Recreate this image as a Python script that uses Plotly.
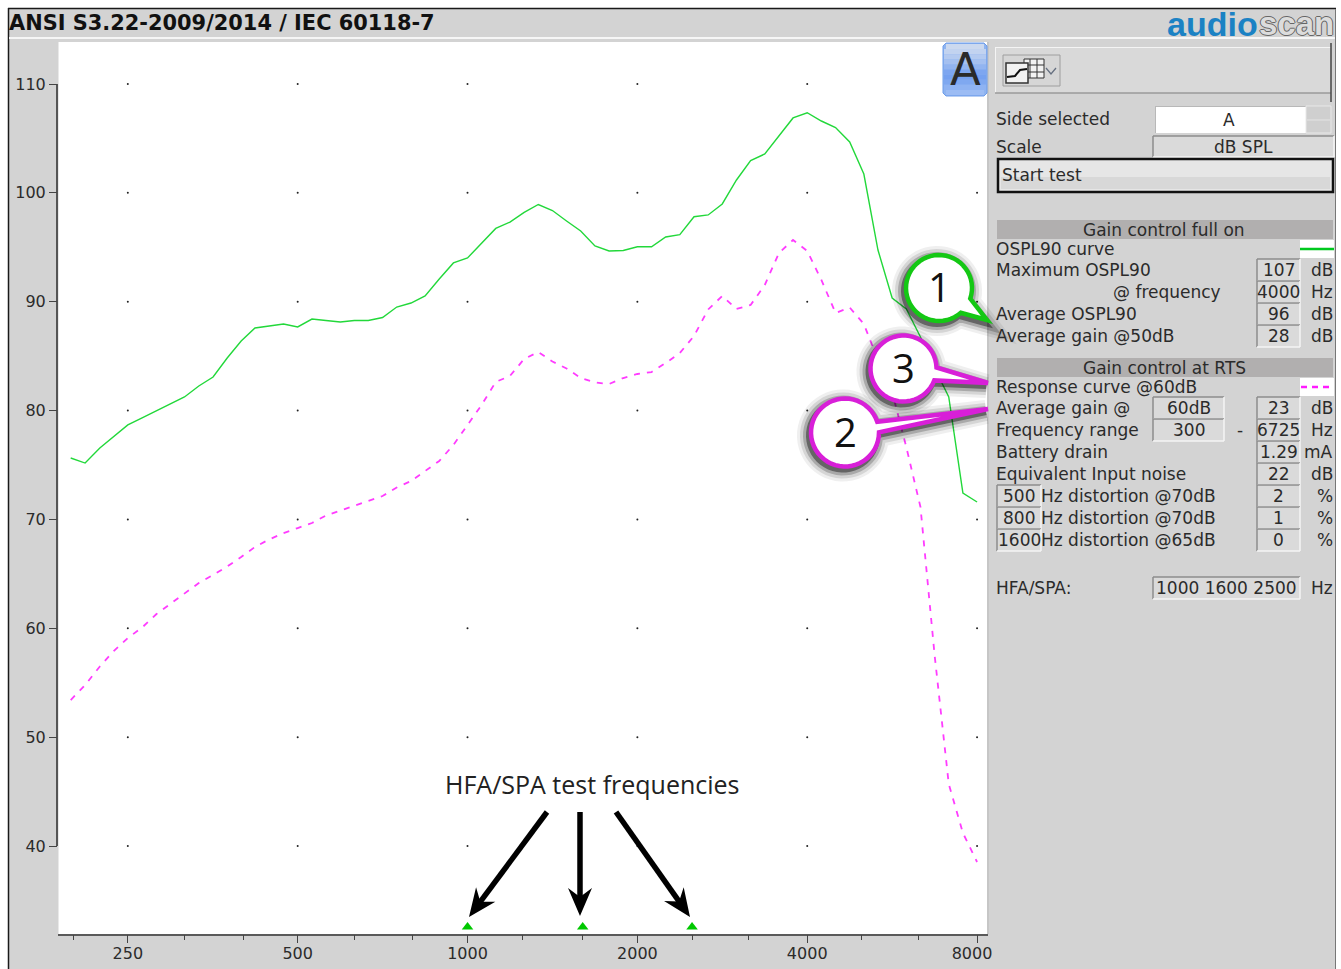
import math
import plotly.graph_objects as go

W, H = 1341, 969

# ---------- data ----------
freq_hz = [198, 210, 223, 236, 250, 265, 281, 297, 315, 334, 354, 375, 397, 420, 445, 472,
           500, 530, 561, 595, 630, 667, 707, 749, 794, 841, 891, 944, 1000, 1059, 1122, 1189,
           1260, 1335, 1414, 1498, 1587, 1682, 1782, 1888, 2000, 2119, 2245, 2378, 2520, 2670,
           2828, 2997, 3175, 3364, 3564, 3775, 4000, 4238, 4490, 4757, 5040, 5339, 5657, 5993,
           6350, 6727, 7127, 7551, 8000]
ospl90_db = [75.64, 75.18, 76.56, 77.62, 78.68, 79.32, 79.96, 80.6, 81.25, 82.26, 83.08, 84.83,
             86.39, 87.59, 87.77, 87.95, 87.68, 88.41, 88.27, 88.14, 88.27, 88.27, 88.55, 89.51,
             89.88, 90.53, 92.09, 93.56, 94.02, 95.39, 96.73, 97.32, 98.2, 98.93, 98.38, 97.42,
             96.5, 95.12, 94.66, 94.71, 95.05, 95.05, 95.95, 96.16, 97.81, 97.97, 98.98, 101.18,
             102.97, 103.57, 105.22, 106.88, 107.36, 106.6, 106.0, 104.67, 101.73, 94.75, 90.34,
             89.33, 86.76, 83.91, 81.25, 72.43, 71.6]
response_db = [53.41, 54.79, 56.49, 57.91, 59.11, 60.07, 61.31, 62.23, 63.2, 64.16, 64.9, 65.68,
               66.55, 67.47, 68.16, 68.75, 69.21, 69.67, 70.36, 70.82, 71.23, 71.65, 72.15, 72.93,
               73.53, 74.45, 75.37, 76.84, 78.68, 80.51, 82.63, 83.18, 84.74, 85.38, 84.51, 83.87,
               82.99, 82.58, 82.44, 82.99, 83.36, 83.54, 84.37, 85.29, 86.85, 89.29, 90.53, 89.33,
               89.7, 91.54, 94.48, 95.67, 94.66, 92.0, 88.96, 89.47, 87.95, 84.65, 81.71, 76.65,
               71.14, 57.55, 45.7, 41.2, 38.53]
hfa_freqs = [1000, 1600, 2500]
hfa_level = [32.55, 32.55, 32.55]
x_major = [250, 500, 1000, 2000, 4000, 8000]
x_major_text = ["250", "500", "1000", "2000", "4000", "8000\u00a0\u00a0"]
x_minor = [200, 315, 400, 630, 800, 1250, 1600, 2500, 3150, 5000, 6300]
y_ticks = [40, 50, 60, 70, 80, 90, 100, 110]

GREEN = "#22d83a"
MAGENTA = "#ff3cff"
PANEL = "#d3d3d3"
TEXT = "#2b2b2b"
FONT = "DejaVu Sans"


def PX(x):
    return x / W


def PY(y):
    return 1 - y / H


shapes = []
annos = []


def rect(x0, y0, x1, y1, fill=None, line=None, lw=1, layer="below", opacity=1):
    shapes.append(dict(type="rect", xref="paper", yref="paper", x0=PX(x0), x1=PX(x1), y0=PY(y0), y1=PY(y1),
                       fillcolor=fill or "rgba(0,0,0,0)", line=dict(color=line or "rgba(0,0,0,0)", width=lw if line else 0),
                       layer=layer, opacity=opacity))


def seg(x0, y0, x1, y1, color, lw=1, layer="below", dash=None):
    shapes.append(dict(type="line", xref="paper", yref="paper", x0=PX(x0), x1=PX(x1), y0=PY(y0), y1=PY(y1),
                       line=dict(color=color, width=lw, dash=dash or "solid"), layer=layer))


def poly(points, fill=None, line=None, lw=0, layer="above", opacity=1):
    d = "M " + " L ".join(f"{PX(x):.5f},{PY(y):.5f}" for x, y in points) + " Z"
    shapes.append(dict(type="path", xref="paper", yref="paper", path=d, fillcolor=fill or "rgba(0,0,0,0)",
                       line=dict(color=line or "rgba(0,0,0,0)", width=lw), layer=layer, opacity=opacity))


def text(x, y, s, size=17, anchor="left", color=TEXT, family=FONT, weight=None, shadow=None):
    f = dict(family=family, size=size, color=color)
    if weight:
        f["weight"] = weight
    if shadow:
        f["shadow"] = shadow
    annos.append(dict(xref="paper", yref="paper", x=PX(x), y=PY(y), text=s, showarrow=False, xanchor=anchor,
                      yanchor="middle", font=f, borderpad=0, borderwidth=0))


def sunken(x0, y0, x1, y1, fill="#dadada"):
    rect(x0, y0, x1, y1, fill=fill)
    seg(x0, y0, x1, y0, "#8c8c8c", 1.5)
    seg(x0, y0, x0, y1, "#8c8c8c", 1.5)
    seg(x0, y1, x1, y1, "#f4f4f4", 1.5)
    seg(x1, y0, x1, y1, "#f4f4f4", 1.5)


def valbox(x0, y0, x1, y1, s):
    sunken(x0, y0, x1, y1)
    text((x0 + x1) / 2, (y0 + y1) / 2, s, anchor="center")


# ---------- window background ----------
rect(8, 8, 1336, H, fill=PANEL)
seg(8, 8.5, 1336, 8.5, "#1a1a1a", 1.5)
seg(8.5, 8, 8.5, H, "#1a1a1a", 1.5)
seg(1335.5, 9, 1335.5, H, "#777777", 1)
seg(9, 38, 1335, 38, "#f6f6f6", 2)
rect(58.5, 42, 988, 934, fill="#ffffff")
seg(988, 42, 988, 934, "#c6c6c6", 2)
seg(58, 935, 988, 935, "#5a5a5a", 2)
shapes.append(dict(type="line", xref="paper", yref="y", x0=PX(57), x1=PX(57), y0=40, y1=110,
                   line=dict(color="#555555", width=2), layer="below"))

text(9, 23.5, "ANSI S3.22-2009/2014 / IEC 60118-7", size=20.9, weight=700, color="#111111")

# logo
text(1167, 24, "audio", size=34, weight=700, color="#1b82c4", family="Liberation Sans")
text(1259, 24, "scan", size=33, weight=700, color="#dcdcdc", family="Liberation Sans",
     shadow="1px 0 0 #666666,-1px 0 0 #666666,0 1px 0 #666666,0 -1px 0 #666666")

# A button
poly([(946, 43), (984, 43), (987, 46), (987, 93), (984, 96), (946, 96), (943, 93), (943, 46)],
     fill="#8fb4f0", line="#6d9cea", lw=1, layer="below")
for i, c in enumerate(["#ccd9ef", "#c2d3f0", "#b4caf0", "#a5c0f0", "#92b4f0", "#7ea6f0", "#76a1f0", "#7fa8f0", "#8fb3f2", "#9cbcf4"]):
    inset = 2 if i in (0, 9) else 0
    rect(944 + inset, 44 + i * 5.1, 986 - inset, 44 + (i + 1) * 5.1, fill=c)
text(965, 70, "A", size=45, anchor="center", color="#2a2a2a")

# tool bar
rect(995, 47, 1331, 93, fill="#d9d9d9")
seg(995, 47.5, 1331, 47.5, "#f4f4f4", 1)
seg(995.5, 47, 995.5, 93, "#f4f4f4", 1)
seg(995, 93, 1331, 93, "#9a9a9a", 1.5)
seg(1331, 43, 1331, 102, "#444444", 1.5)
rect(1003, 55, 1060, 86, fill="#d6d6d6", line="#9e9e9e", lw=1)
rect(1024, 59, 1044, 78, fill="#f2f2f2", line="#333333", lw=1)
for xx in (1030, 1037):
    seg(xx, 59, xx, 78, "#333333", 1)
for yy in (65, 72):
    seg(1024, yy, 1044, yy, "#333333", 1)
rect(1006, 63, 1028, 83, fill="#f2f2f2", line="#333333", lw=1.5)
shapes.append(dict(type="path", xref="paper", yref="paper", layer="below", line=dict(color="#111111", width=2),
                   path="M " + " L ".join(f"{PX(x):.5f},{PY(y):.5f}" for x, y in [(1007, 77), (1015, 76), (1020, 70), (1027, 69)])))
shapes.append(dict(type="path", xref="paper", yref="paper", layer="below", line=dict(color="#667080", width=1.3),
                   path="M " + " L ".join(f"{PX(x):.5f},{PY(y):.5f}" for x, y in [(1046, 68), (1051, 74), (1056, 68)])))

# selector rows
text(996, 119, "Side selected")
rect(1155, 106, 1306, 133, fill="#ffffff")
seg(1155, 106.5, 1306, 106.5, "#b8b8b8", 1)
seg(1155.5, 106, 1155.5, 133, "#b8b8b8", 1)
text(1229, 120, "A", anchor="center")
rect(1306, 106, 1331, 133, fill="#cfcfcf", line="#e8e8e8", lw=1)
seg(1307, 120, 1330, 120, "#e4e4e4", 1)
text(996, 147, "Scale")
sunken(1153, 136, 1334, 157)
text(1243, 147, "dB SPL", anchor="center")
rect(998, 159, 1333, 192, fill="#e6e6e6", line="#111111", lw=2.5)
rect(1001, 177, 1330, 189, fill="#d8d8d8")
text(1002, 175, "Start test")

# gain control full on
rect(997, 220, 1333, 239, fill="#b1afaf")
text(1164, 230, "Gain control full on", anchor="center")
text(996, 249, "OSPL90 curve")
rect(1300, 240, 1334, 258, fill="#ffffff")
seg(1300, 249, 1334, 249, "#00c81e", 2.5)
text(996, 270, "Maximum OSPL90")
valbox(1257, 259, 1300, 281, "107")
text(1333, 270, "dB", anchor="right")
text(1113, 292, "@ frequency")
valbox(1257, 281, 1300, 303, "4000")
text(1333, 292, "Hz", anchor="right")
text(996, 314, "Average OSPL90")
valbox(1257, 303, 1300, 325, "96")
text(1333, 314, "dB", anchor="right")
text(996, 336, "Average gain @50dB")
valbox(1257, 325, 1300, 347, "28")
text(1333, 336, "dB", anchor="right")

# gain control at RTS
rect(997, 358, 1333, 377, fill="#b1afaf")
text(1164, 368, "Gain control at RTS", anchor="center")
text(996, 387, "Response curve @60dB")
rect(1300, 378, 1334, 396, fill="#ffffff")
seg(1301, 387, 1334, 387, "#ff1cff", 2.5, dash="6px,5px")
text(996, 408, "Average gain @")
valbox(1153, 397, 1224, 419, "60dB")
valbox(1257, 397, 1300, 419, "23")
text(1333, 408, "dB", anchor="right")
text(996, 430, "Frequency range")
valbox(1153, 419, 1224, 441, "300")
text(1240, 430, "-", anchor="center")
valbox(1257, 419, 1300, 441, "6725")
text(1333, 430, "Hz", anchor="right")
text(996, 452, "Battery drain")
valbox(1257, 441, 1300, 463, "1.29")
text(1333, 452, "mA", anchor="right")
text(996, 474, "Equivalent Input noise")
valbox(1257, 463, 1300, 485, "22")
text(1333, 474, "dB", anchor="right")
for y0, hz, lbl, val in [(485, "500", "Hz distortion @70dB", "2"), (507, "800", "Hz distortion @70dB", "1"),
                         (529, "1600", "Hz distortion @65dB", "0")]:
    valbox(997, y0, 1041, y0 + 22, hz)
    text(1041, y0 + 11, lbl)
    valbox(1257, y0, 1300, y0 + 22, val)
    text(1333, y0 + 11, "%", anchor="right")
text(996, 588, "HFA/SPA:")
valbox(1153, 577, 1300, 599, "1000 1600 2500")
text(1333, 588, "Hz", anchor="right")


# ---------- callouts ----------
def callout_pts(cx, cy, r, tx, ty, half):
    a0 = math.atan2(ty - cy, tx - cx)
    pts = [(tx, ty)]
    n = 48
    for i in range(n + 1):
        a = a0 + half + (2 * math.pi - 2 * half) * i / n
        pts.append((cx + r * math.cos(a), cy + r * math.sin(a)))
    return pts


def callout(cx, cy, r, tx, ty, half, color, label):
    pts = callout_pts(cx, cy, r, tx, ty, half)
    shifted = [(x - 2, y + 3) for x, y in pts]
    for lw, op in [(24, 0.06), (18, 0.1), (12, 0.2), (6, 0.4)]:
        poly(shifted, fill="#000000", line="#000000", lw=lw, opacity=op)
    poly(pts, fill="#ffffff", line=color, lw=4.5)
    text(cx, cy - 1, label, size=40, anchor="center", color="#111111", family="Open Sans")


callout(939, 288, 33, 987, 320, 0.26, "#14c814", "1")
callout(903.5, 368.5, 33, 988, 383, 0.2, "#d81fd8", "3")
callout(845, 432.5, 34, 988, 409, 0.16, "#d81fd8", "2")


# ---------- arrows ----------
def arrow(x0, y0, x1, y1):
    a = math.atan2(y1 - y0, x1 - x0)
    ca, sa = math.cos(a), math.sin(a)

    def pt(u, v):
        return (x1 + u * ca - v * sa, y1 + u * sa + v * ca)

    seg(x0, y0, x1 - 16 * ca, y1 - 16 * sa, "#000000", 5.5, layer="above")
    poly([pt(0, 0), pt(-28, 12), pt(-19, 0), pt(-28, -12)], fill="#000000")


arrow(547, 812, 469, 917)
arrow(580, 812, 580, 916)
arrow(616, 812, 690, 917)
text(592, 783.5, "HFA/SPA test frequencies", size=25, anchor="center", color="#222222", family="Open Sans")

# ---------- chart ----------
fig = go.Figure()
dots_x = [f for f in x_major for _ in y_ticks]
dots_y = [v for _ in x_major for v in y_ticks]
fig.add_trace(go.Scatter(x=dots_x, y=dots_y, mode="markers", marker=dict(color="#222222", size=2), hoverinfo="skip"))
fig.add_trace(go.Scatter(x=freq_hz, y=ospl90_db, mode="lines", line=dict(color=GREEN, width=1.4), name="OSPL90 curve"))
fig.add_trace(go.Scatter(x=freq_hz, y=response_db, mode="lines", line=dict(color=MAGENTA, width=1.8, dash="6px,7px"),
                         name="Response curve @60dB"))
fig.add_trace(go.Scatter(x=hfa_freqs, y=hfa_level, mode="markers", marker=dict(color="#00c800", size=10, symbol="triangle-up"),
                         name="HFA/SPA test frequencies"))

fig.update_layout(
    width=W, height=H, autosize=False, showlegend=False,
    margin=dict(l=0, r=0, t=0, b=0, pad=0, autoexpand=False),
    paper_bgcolor="#ffffff", plot_bgcolor="rgba(0,0,0,0)",
    font=dict(family=FONT, size=16, color=TEXT),
    shapes=shapes, annotations=annos,
    xaxis=dict(type="log", domain=[58 / W, 988 / W], range=[math.log10(188), math.log10(8365)],
               tickmode="array", tickvals=x_major, ticktext=x_major_text, ticks="outside", ticklen=8, tickwidth=1.3,
               tickcolor="#444444", showgrid=False, zeroline=False, showline=False, ticklabelstandoff=-3,
               tickfont=dict(family=FONT, size=16, color=TEXT),
               minor=dict(tickmode="array", tickvals=x_minor, ticks="outside", ticklen=5, tickwidth=1.3,
                          tickcolor="#444444", showgrid=False)),
    yaxis=dict(domain=[1 - 934 / H, 1 - 42 / H], range=[40 - 88 / 10.886, 110 + 42 / 10.886],
               tickmode="array", tickvals=y_ticks, ticks="outside", ticklen=8, tickwidth=1.3, tickcolor="#444444",
               showgrid=False, zeroline=False, showline=False,
               tickfont=dict(family=FONT, size=16, color=TEXT)),
)

fig.write_html("out.html", config={"displayModeBar": False, "responsive": False},
               default_width="1341px", default_height="969px",
               post_script="document.documentElement.style.overflow='hidden';document.body.style.margin='0';document.body.style.overflow='hidden';")
